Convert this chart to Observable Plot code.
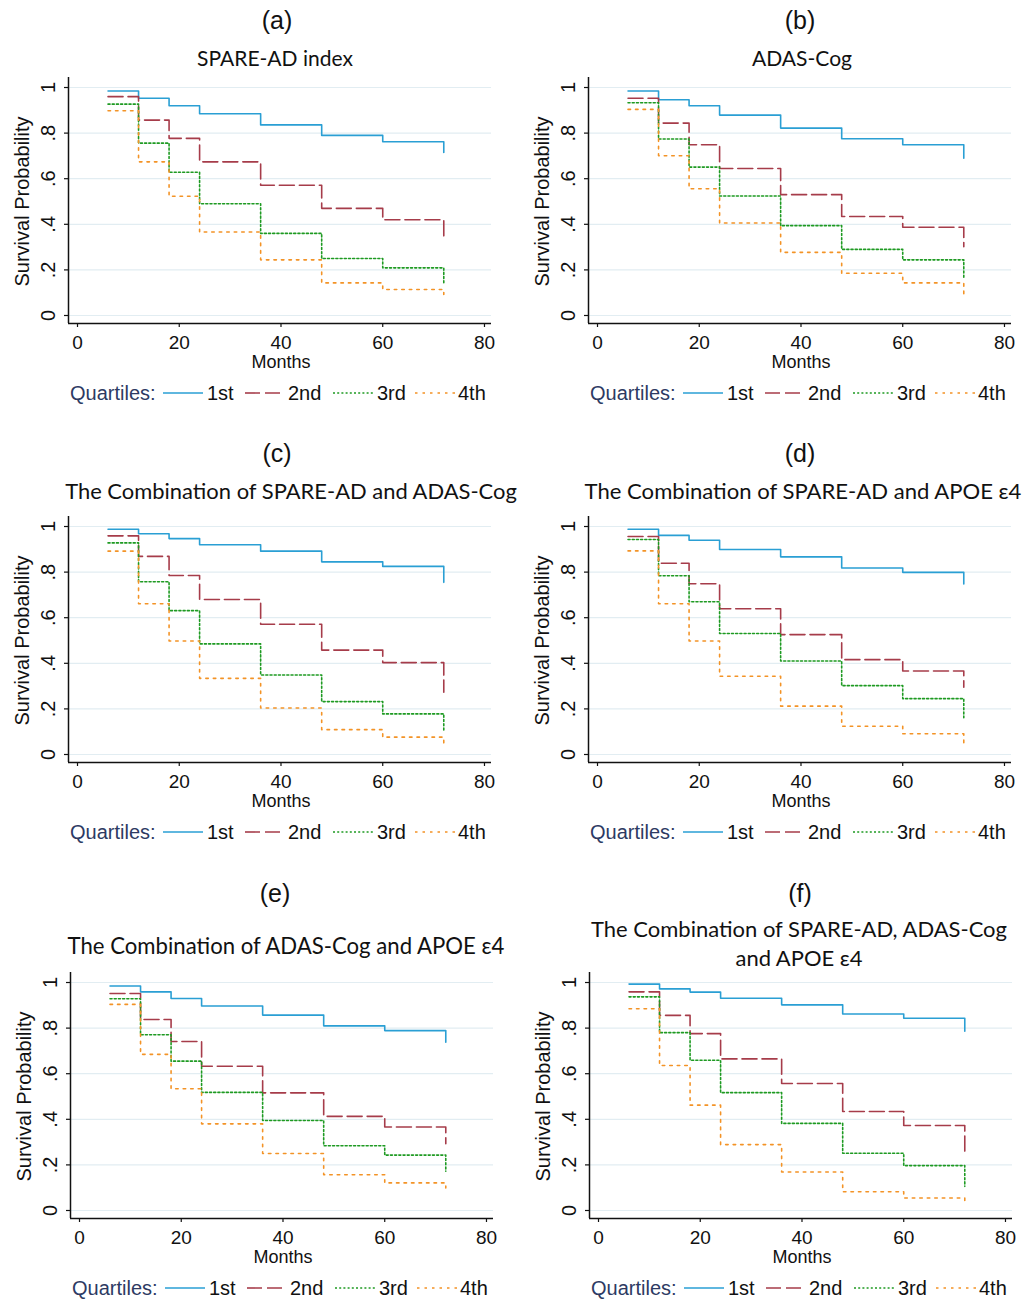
<!DOCTYPE html>
<html><head><meta charset="utf-8">
<script src="https://cdn.jsdelivr.net/npm/d3@7"></script>
<script src="https://cdn.jsdelivr.net/npm/@observablehq/plot@0.6"></script>
<style>
body{margin:0;background:#fff;}
#root{position:relative;width:1025px;height:1307px;background:#fff;overflow:hidden;font-family:"Liberation Sans",Arial,sans-serif;}
.abs{position:absolute;white-space:nowrap;}
.letter{font-size:25px;color:#111;transform:translate(-50%,-50%);line-height:1;}
.title{font-family:Lato,"Liberation Sans Narrow",sans-serif;font-size:20px;color:#111;transform:translate(-50%,-50%);line-height:1;}
.leg{font-size:20px;color:#111;transform:translateY(-50%);line-height:1;}
.legq{color:#2d3a63;}
svg.panel{position:absolute;overflow:visible;}
</style></head>
<body><div id="root"></div>
<script>
// ---- data ----
const months = [6, 12, 18, 24, 36, 48, 60, 72];
const quartileLabels = ["1st", "2nd", "3rd", "4th"];
const xTicks = [0, 20, 40, 60, 80];
const yTicks = [0, 0.2, 0.4, 0.6, 0.8, 1];
const yTickLabels = ["0", ".2", ".4", ".6", ".8", "1"];
const panelLetters = ["(a)", "(b)", "(c)", "(d)", "(e)", "(f)"];
const panelTitles = [
  ["SPARE-AD index"],
  ["ADAS-Cog"],
  ["The Combination of SPARE-AD and ADAS-Cog"],
  ["The Combination of SPARE-AD and APOE ε4"],
  ["The Combination of ADAS-Cog and APOE ε4"],
  ["The Combination of SPARE-AD, ADAS-Cog", "and APOE ε4"]
];

// (a) SPARE-AD index
const a_q1 = [0.985, 0.953, 0.920, 0.885, 0.836, 0.790, 0.762, 0.715];
const a_q2 = [0.960, 0.857, 0.777, 0.674, 0.571, 0.470, 0.420, 0.336];
const a_q3 = [0.927, 0.756, 0.628, 0.490, 0.360, 0.250, 0.209, 0.143];
const a_q4 = [0.898, 0.674, 0.523, 0.366, 0.244, 0.143, 0.114, 0.092];
// (b) ADAS-Cog
const b_q1 = [0.985, 0.946, 0.920, 0.879, 0.822, 0.775, 0.749, 0.690];
const b_q2 = [0.953, 0.844, 0.749, 0.645, 0.530, 0.434, 0.387, 0.302];
const b_q3 = [0.933, 0.774, 0.651, 0.524, 0.394, 0.290, 0.244, 0.168];
const b_q4 = [0.904, 0.701, 0.556, 0.406, 0.277, 0.185, 0.143, 0.083];
// (c) SPARE-AD + ADAS-Cog
const c_q1 = [0.988, 0.968, 0.947, 0.920, 0.892, 0.845, 0.825, 0.755];
const c_q2 = [0.959, 0.869, 0.785, 0.680, 0.571, 0.458, 0.403, 0.273];
const c_q3 = [0.928, 0.758, 0.631, 0.485, 0.349, 0.232, 0.178, 0.100];
const c_q4 = [0.892, 0.661, 0.498, 0.334, 0.204, 0.109, 0.076, 0.051];
// (d) SPARE-AD + APOE e4
const d_q1 = [0.988, 0.961, 0.940, 0.899, 0.867, 0.818, 0.799, 0.748];
const d_q2 = [0.956, 0.839, 0.749, 0.639, 0.526, 0.416, 0.366, 0.295];
const d_q3 = [0.943, 0.784, 0.670, 0.531, 0.410, 0.302, 0.245, 0.161];
const d_q4 = [0.893, 0.661, 0.498, 0.343, 0.212, 0.124, 0.091, 0.047];
// (e) ADAS-Cog + APOE e4
const e_q1 = [0.985, 0.959, 0.930, 0.897, 0.857, 0.810, 0.789, 0.738];
const e_q2 = [0.952, 0.838, 0.741, 0.633, 0.516, 0.413, 0.366, 0.293];
const e_q3 = [0.929, 0.771, 0.655, 0.518, 0.395, 0.284, 0.243, 0.172];
const e_q4 = [0.904, 0.685, 0.534, 0.380, 0.250, 0.157, 0.121, 0.099];
// (f) SPARE-AD + ADAS-Cog + APOE e4
const f_q1 = [0.993, 0.972, 0.958, 0.931, 0.902, 0.862, 0.843, 0.786];
const f_q2 = [0.959, 0.856, 0.776, 0.665, 0.557, 0.434, 0.373, 0.245];
const f_q3 = [0.937, 0.780, 0.659, 0.517, 0.382, 0.251, 0.197, 0.106];
const f_q4 = [0.885, 0.636, 0.462, 0.289, 0.169, 0.082, 0.055, 0.041];

const panelSeries = [
  [a_q1, a_q2, a_q3, a_q4],
  [b_q1, b_q2, b_q3, b_q4],
  [c_q1, c_q2, c_q3, c_q4],
  [d_q1, d_q2, d_q3, d_q4],
  [e_q1, e_q2, e_q3, e_q4],
  [f_q1, f_q2, f_q3, f_q4]
];

// ---- styles & layout ----
const lineColors = ["#2a9fd4", "#a63c4a", "#1e9a22", "#f39326"];
const lineDashes = [null, "15 5", "2 2.2", "2.5 5"];
const panelLeft = [0, 520, 0, 520, 2, 521];
const panelTop = [75, 75, 514, 514, 970, 970];
const letterX = [277, 800, 277, 800, 275, 800];
const letterY = [20, 20, 453, 453, 893, 893];
const titleX = [275, 802, 291, 803, 286, 799];
const titleY = [[58], [58], [491], [491], [946], [929, 958]];
const titleW = [[156], [100], [452], [437], [437], [416, 127]];

const root = document.getElementById("root");
const xMin = -1.77, xMax = 81.38, yMin = -0.0351, yMax = 1.0439;

function makePanel(series) {
  const rows = series.flatMap((vals, i) => vals.map((s, j) => ({month: months[j], surv: s, q: quartileLabels[i]})));
  const lines = quartileLabels.map((q, i) =>
    Plot.line(rows.filter(r => r.q === q), {
      x: "month", y: "surv", curve: "step-after",
      stroke: lineColors[i], strokeWidth: 1.6,
      strokeDasharray: lineDashes[i] || undefined
    })
  );
  return Plot.plot({
    width: 500, height: 300,
    marginLeft: 68, marginRight: 9, marginTop: 2, marginBottom: 52,
    x: {domain: [xMin, xMax], axis: null},
    y: {domain: [yMin, yMax], axis: null},
    style: {background: "transparent", fontFamily: "'Liberation Sans', Arial, sans-serif", color: "#111", overflow: "visible"},
    marks: [
      Plot.ruleY(yTicks, {stroke: "#e2edf2", strokeWidth: 1.2}),
      Plot.ruleX([xMin], {stroke: "#111", strokeWidth: 1.5}),
      Plot.ruleY([yMin], {stroke: "#111", strokeWidth: 1.5}),
      Plot.axisX(xTicks, {tickSize: 4, tickFormat: () => "", label: null, stroke: "#111", strokeWidth: 1.2}),
      Plot.axisY(yTicks, {tickSize: 4, tickFormat: () => "", label: null, stroke: "#111", strokeWidth: 1.2, anchor: "left"}),
      Plot.text(xTicks, {x: d => d, y: () => yMin, text: d => String(d), dy: 19, fontSize: 19, lineAnchor: "middle", fill: "#111"}),
      Plot.text(yTicks, {x: () => xMin, y: d => d, text: (d, i) => yTickLabels[i], rotate: -90, dx: -19.5, fontSize: 20, textAnchor: "middle", lineAnchor: "middle", fill: "#111"}),
      Plot.text(["Survival Probability"], {x: () => xMin, y: () => 0.5, text: d => d, rotate: -90, dx: -46, fontSize: 20, textAnchor: "middle", lineAnchor: "middle", fill: "#111"}),
      Plot.text(["Months"], {x: () => 40, y: () => yMin, text: d => d, dy: 39, fontSize: 18, lineAnchor: "middle", fill: "#111"}),
      ...lines
    ]
  });
}

function addDiv(cls, text, x, y) {
  const d = document.createElement("div");
  d.className = "abs " + cls;
  d.textContent = text;
  d.style.left = x + "px";
  d.style.top = y + "px";
  root.appendChild(d);
  return d;
}

function legendSample(i, x, y) {
  const ns = "http://www.w3.org/2000/svg";
  const svg = document.createElementNS(ns, "svg");
  svg.setAttribute("width", 40); svg.setAttribute("height", 6);
  svg.style.position = "absolute";
  svg.style.left = x + "px"; svg.style.top = (y - 3) + "px";
  const l = document.createElementNS(ns, "line");
  l.setAttribute("x1", 0); l.setAttribute("x2", 40); l.setAttribute("y1", 3); l.setAttribute("y2", 3);
  l.setAttribute("stroke", lineColors[i]); l.setAttribute("stroke-width", 1.6);
  if (lineDashes[i]) l.setAttribute("stroke-dasharray", lineDashes[i]);
  svg.appendChild(l);
  root.appendChild(svg);
}

panelSeries.forEach((series, p) => {
  const svg = makePanel(series);
  svg.classList.add("panel");
  svg.style.left = panelLeft[p] + "px";
  svg.style.top = panelTop[p] + "px";
  root.appendChild(svg);

  addDiv("letter", panelLetters[p], letterX[p], letterY[p]);
  panelTitles[p].forEach((t, k) => {
    const d = addDiv("title", t, titleX[p], titleY[p][k]);
    const w = d.getBoundingClientRect().width;
    d.style.fontSize = (20 * titleW[p][k] / w).toFixed(2) + "px";
  });

  // legend
  const lx = panelLeft[p], ly = panelTop[p] + 318;
  addDiv("leg legq", "Quartiles:", lx + 70, ly);
  const sampleX = [163, 245, 333, 415];
  const textX = [207, 288, 377, 458];
  quartileLabels.forEach((q, i) => {
    legendSample(i, lx + sampleX[i], ly);
    addDiv("leg", q, lx + textX[i], ly);
  });
});
</script>
</body></html>
